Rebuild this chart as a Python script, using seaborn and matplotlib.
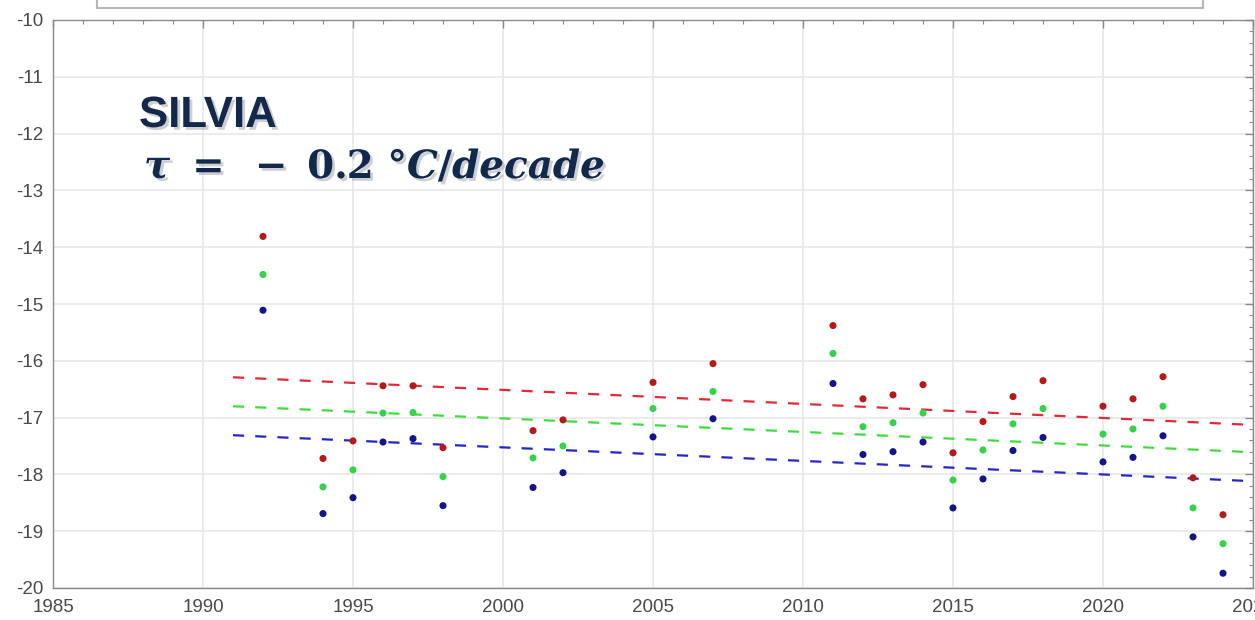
import matplotlib
matplotlib.use('Agg')
import matplotlib.pyplot as plt
import seaborn as sns
import pandas as pd
import numpy as np
from matplotlib import patheffects as pe
from matplotlib.ticker import MultipleLocator
from matplotlib.patches import Rectangle

# ---------------- data ----------------
years = [1992, 1994, 1995, 1996, 1997, 1998, 2001, 2002, 2005, 2007, 2011, 2012,
         2013, 2014, 2015, 2016, 2017, 2018, 2020, 2021, 2022, 2023, 2024]
t_max = [-13.81, -17.72, -17.41, -16.44, -16.44, -17.53, -17.23, -17.04, -16.38, -16.05,
         -15.38, -16.67, -16.60, -16.42, -17.62, -17.07, -16.63, -16.35, -16.80, -16.67,
         -16.28, -18.06, -18.71]
t_mean = [-14.48, -18.22, -17.92, -16.92, -16.91, -18.04, -17.71, -17.50, -16.84, -16.54,
          -15.87, -17.16, -17.09, -16.92, -18.10, -17.57, -17.11, -16.84, -17.29, -17.20,
          -16.80, -18.59, -19.22]
t_min = [-15.11, -18.69, -18.41, -17.43, -17.37, -18.55, -18.23, -17.97, -17.34, -17.02,
         -16.40, -17.65, -17.60, -17.43, -18.59, -18.08, -17.58, -17.35, -17.78, -17.70,
         -17.32, -19.10, -19.74]

trend_years = [1991, 2025]
trend_max = [-16.29, -17.13]
trend_mean = [-16.80, -17.61]
trend_min = [-17.31, -18.12]

series_names = ['Tmean', 'Tmax', 'Tmin']
x_ticks = [1985, 1990, 1995, 2000, 2005, 2010, 2015, 2020, 2025]
y_ticks = [-20, -19, -18, -17, -16, -15, -14, -13, -12, -11, -10]
station = 'SILVIA'
trend_label = r'$\tau\ =\ -\;0.2\ °C/decade$'

# ---------------- style ----------------
sns.set_theme(style='white')
plt.rcParams['font.family'] = ['Liberation Sans', 'DejaVu Sans']
plt.rcParams['axes.unicode_minus'] = False
plt.rcParams['mathtext.fontset'] = 'custom'
plt.rcParams['mathtext.it'] = 'DejaVu Serif:bold:italic'
plt.rcParams['mathtext.rm'] = 'DejaVu Serif:bold'
plt.rcParams['mathtext.bf'] = 'DejaVu Serif:bold'

W, H = 1255, 620
fig = plt.figure(figsize=(W / 100, H / 100), dpi=100)
ax = fig.add_axes([53 / W, 32 / H, 1200 / W, 568 / H])

pts = pd.DataFrame({
    'year': years * 3,
    'temp': t_mean + t_max + t_min,
    'series': ['Tmean'] * len(years) + ['Tmax'] * len(years) + ['Tmin'] * len(years),
})
trend = pd.DataFrame({
    'year': trend_years * 3,
    'temp': trend_mean + trend_max + trend_min,
    'series': ['Tmean'] * 2 + ['Tmax'] * 2 + ['Tmin'] * 2,
})

line_pal = {'Tmax': '#e3283a', 'Tmean': '#3fdc3f', 'Tmin': '#2424c8'}
dot_pal = {'Tmax': '#b41a1a', 'Tmean': '#36d24a', 'Tmin': '#14148a'}

sns.lineplot(data=trend, x='year', y='temp', hue='series', palette=line_pal,
             linewidth=1.6, dashes=False, legend=False, ax=ax, zorder=2)
for ln in ax.get_lines():
    ln.set_dashes((5, 5))
sns.scatterplot(data=pts, x='year', y='temp', hue='series', palette=dot_pal,
                s=26, edgecolor='none', legend=False, ax=ax, zorder=3)

ax.set_xlim(1985, 2025)
ax.set_ylim(-20, -10)
ax.set_xticks(x_ticks)
ax.set_yticks(y_ticks)
ax.xaxis.set_minor_locator(MultipleLocator(1))
ax.yaxis.set_minor_locator(MultipleLocator(0.2))
ax.set_xlabel('')
ax.set_ylabel('')
ax.grid(True, which='major', color='#e6e6e6', linewidth=1.1)
ax.set_axisbelow(True)
ax.tick_params(which='both', direction='in', top=True, right=True, colors='#8a8a8a',
               labelcolor='#4a4a4a', labelsize=13.5)
ax.tick_params(which='major', length=6, width=1)
ax.tick_params(which='minor', length=3, width=0.8)
ax.tick_params(axis='x', pad=8)
ax.tick_params(axis='y', pad=7)
for sp in ax.spines.values():
    sp.set_color('#8a8a8a')
    sp.set_linewidth(1.0)

# ---------------- annotations ----------------
shadow = [pe.withSimplePatchShadow(offset=(2, -2), shadow_rgbFace='#9aa0a8', alpha=0.5)]
fig.text(139 / W, 1 - 127 / H, station, fontsize=31.5, fontweight='bold',
         color='#13294b', va='baseline', ha='left', path_effects=shadow)
fig.text(144 / W, 1 - 178 / H, trend_label, fontsize=28,
         color='#13294b', va='baseline', ha='left', path_effects=shadow)

# partially visible legend box at the very top
fig.patches.append(Rectangle((97 / W, 1 - 8 / H), (1203 - 97) / W, 0.2,
                             transform=fig.transFigure, facecolor='white',
                             edgecolor='#b8b8b8', linewidth=1.5, zorder=5))
leg_x = [182, 545, 915]
leg_c = ['#3fdc3f', '#e3283a', '#2424c8']
for name, xx, cc in zip(series_names, leg_x, leg_c):
    fig.text(xx / W, 1 - 3 / H, name, fontsize=9, color=cc, ha='center',
             va='bottom', zorder=6)

fig.savefig('out.png', dpi=100)
